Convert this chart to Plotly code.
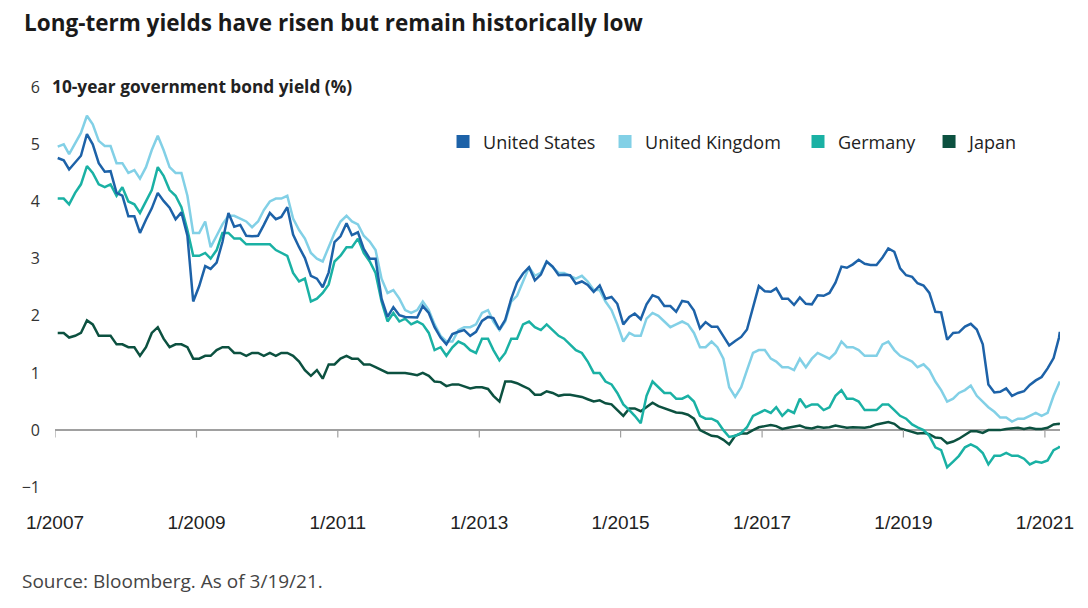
import pandas as pd
import plotly.graph_objects as go

# Monthly (mid-month) 10-year government bond yields, Jan 2007 - Mar 2021, plus final 3/19/21
months = list(pd.date_range("2007-01-01", "2021-03-01", freq="MS") + pd.Timedelta(days=14))
dates = months + [pd.Timestamp("2021-03-19")]

us = [
    4.76, 4.72, 4.56, 4.69, 4.80, 5.18, 5.00, 4.67, 4.52, 4.53, 4.15, 4.10,
    3.74, 3.74, 3.45, 3.68, 3.88, 4.15, 4.01, 3.89, 3.69, 3.81, 3.40, 2.25,
    2.52, 2.87, 2.82, 2.93, 3.29, 3.80, 3.56, 3.59, 3.40, 3.39, 3.40, 3.59,
    3.80, 3.69, 3.73, 3.90, 3.42, 3.20, 3.01, 2.70, 2.65, 2.50, 2.76, 3.29,
    3.39, 3.62, 3.41, 3.46, 3.17, 3.00, 3.00, 2.30, 1.98, 2.15, 2.01, 1.98,
    1.97, 1.97, 2.17, 2.05, 1.80, 1.62, 1.50, 1.68, 1.72, 1.75, 1.65, 1.72,
    1.91, 1.98, 1.96, 1.76, 1.93, 2.30, 2.58, 2.74, 2.85, 2.62, 2.72, 2.95,
    2.86, 2.71, 2.72, 2.71, 2.56, 2.60, 2.54, 2.42, 2.53, 2.30, 2.33, 2.21,
    1.85, 1.98, 2.04, 1.94, 2.20, 2.36, 2.32, 2.17, 2.17, 2.07, 2.26, 2.24,
    2.09, 1.78, 1.89, 1.81, 1.81, 1.64, 1.48, 1.56, 1.63, 1.76, 2.14, 2.52,
    2.43, 2.42, 2.48, 2.30, 2.30, 2.19, 2.32, 2.21, 2.20, 2.36, 2.35, 2.40,
    2.58, 2.86, 2.84, 2.90, 2.98, 2.91, 2.89, 2.89, 3.02, 3.18, 3.12, 2.83,
    2.71, 2.68, 2.57, 2.53, 2.40, 2.07, 2.06, 1.58, 1.70, 1.71, 1.81, 1.86,
    1.76, 1.50, 0.80, 0.66, 0.67, 0.73, 0.60, 0.65, 0.68, 0.79, 0.87, 0.93,
    1.08, 1.26, 1.62, 1.72,
]

uk = [
    4.96, 5.00, 4.83, 5.03, 5.20, 5.50, 5.35, 5.06, 4.97, 4.97, 4.67, 4.67,
    4.50, 4.55, 4.40, 4.60, 4.90, 5.15, 4.90, 4.60, 4.50, 4.50, 4.10, 3.45,
    3.45, 3.65, 3.20, 3.40, 3.60, 3.75, 3.75, 3.70, 3.65, 3.55, 3.65, 3.85,
    4.00, 4.05, 4.05, 4.10, 3.70, 3.50, 3.35, 3.10, 3.00, 2.95, 3.20, 3.45,
    3.65, 3.75, 3.65, 3.60, 3.40, 3.30, 3.15, 2.65, 2.40, 2.45, 2.30, 2.10,
    2.05, 2.10, 2.25, 2.10, 1.85, 1.65, 1.55, 1.55, 1.75, 1.80, 1.80, 1.85,
    2.05, 2.10, 1.90, 1.75, 1.90, 2.25, 2.35, 2.60, 2.85, 2.70, 2.75, 2.95,
    2.85, 2.75, 2.75, 2.70, 2.65, 2.70, 2.60, 2.45, 2.45, 2.25, 2.10, 1.85,
    1.55, 1.70, 1.65, 1.65, 1.95, 2.05, 2.00, 1.90, 1.80, 1.85, 1.90, 1.85,
    1.70, 1.45, 1.45, 1.55, 1.45, 1.25, 0.75, 0.58, 0.75, 1.05, 1.35, 1.40,
    1.40, 1.25, 1.20, 1.10, 1.10, 1.05, 1.25, 1.10, 1.25, 1.35, 1.30, 1.25,
    1.35, 1.55, 1.45, 1.45, 1.40, 1.30, 1.30, 1.30, 1.50, 1.55, 1.40, 1.30,
    1.25, 1.20, 1.10, 1.15, 1.05, 0.85, 0.70, 0.50, 0.55, 0.65, 0.70, 0.78,
    0.60, 0.50, 0.40, 0.32, 0.22, 0.22, 0.15, 0.20, 0.20, 0.25, 0.30, 0.25,
    0.30, 0.60, 0.80, 0.85,
]

germany = [
    4.05, 4.05, 3.95, 4.15, 4.30, 4.62, 4.50, 4.30, 4.25, 4.30, 4.10, 4.25,
    4.00, 3.95, 3.80, 4.00, 4.20, 4.60, 4.45, 4.20, 4.10, 3.90, 3.50, 3.05,
    3.05, 3.10, 3.00, 3.15, 3.45, 3.45, 3.35, 3.35, 3.25, 3.25, 3.25, 3.25,
    3.25, 3.15, 3.10, 3.05, 2.75, 2.60, 2.65, 2.25, 2.30, 2.40, 2.55, 2.95,
    3.05, 3.20, 3.20, 3.35, 3.10, 2.95, 2.75, 2.25, 1.90, 2.05, 1.90, 1.95,
    1.85, 1.90, 1.85, 1.70, 1.40, 1.45, 1.30, 1.45, 1.55, 1.50, 1.40, 1.35,
    1.60, 1.60, 1.40, 1.22, 1.35, 1.60, 1.60, 1.85, 1.90, 1.80, 1.75, 1.85,
    1.75, 1.65, 1.60, 1.50, 1.40, 1.35, 1.20, 1.00, 1.00, 0.85, 0.80, 0.65,
    0.45, 0.35, 0.25, 0.12, 0.60, 0.85, 0.75, 0.65, 0.65, 0.55, 0.55, 0.60,
    0.50, 0.25, 0.20, 0.20, 0.15, 0.00, -0.12, -0.10, -0.05, 0.05, 0.25, 0.30,
    0.35, 0.30, 0.40, 0.25, 0.35, 0.30, 0.55, 0.40, 0.45, 0.45, 0.35, 0.40,
    0.60, 0.70, 0.55, 0.55, 0.50, 0.35, 0.35, 0.35, 0.45, 0.45, 0.35, 0.25,
    0.20, 0.10, 0.05, 0.00, -0.10, -0.30, -0.35, -0.65, -0.55, -0.45, -0.30, -0.25,
    -0.30, -0.40, -0.60, -0.45, -0.45, -0.40, -0.45, -0.45, -0.50, -0.60, -0.55, -0.57,
    -0.53, -0.35, -0.30, -0.28,
]

japan = [
    1.70, 1.70, 1.62, 1.65, 1.70, 1.92, 1.85, 1.65, 1.65, 1.65, 1.50, 1.50,
    1.45, 1.45, 1.30, 1.45, 1.70, 1.80, 1.60, 1.45, 1.50, 1.50, 1.45, 1.25,
    1.25, 1.30, 1.30, 1.40, 1.45, 1.45, 1.35, 1.35, 1.30, 1.35, 1.35, 1.30,
    1.35, 1.30, 1.35, 1.35, 1.30, 1.20, 1.05, 0.95, 1.05, 0.90, 1.15, 1.15,
    1.25, 1.30, 1.25, 1.25, 1.15, 1.15, 1.10, 1.05, 1.00, 1.00, 1.00, 1.00,
    0.98, 0.96, 1.00, 0.95, 0.85, 0.84, 0.77, 0.80, 0.80, 0.77, 0.73, 0.75,
    0.75, 0.72, 0.60, 0.50, 0.85, 0.85, 0.82, 0.77, 0.72, 0.62, 0.62, 0.68,
    0.65, 0.60, 0.62, 0.62, 0.60, 0.58, 0.54, 0.50, 0.52, 0.47, 0.45, 0.35,
    0.25, 0.38, 0.38, 0.33, 0.40, 0.48, 0.42, 0.38, 0.35, 0.31, 0.30, 0.27,
    0.20, 0.00, -0.05, -0.10, -0.11, -0.17, -0.25, -0.10, -0.06, -0.06, 0.00, 0.05,
    0.07, 0.09, 0.07, 0.02, 0.04, 0.06, 0.08, 0.04, 0.03, 0.06, 0.04, 0.05,
    0.08, 0.06, 0.04, 0.05, 0.05, 0.04, 0.06, 0.10, 0.12, 0.14, 0.11, 0.03,
    0.00, -0.03, -0.06, -0.05, -0.07, -0.13, -0.14, -0.23, -0.20, -0.15, -0.08, -0.02,
    -0.02, -0.05, 0.00, 0.00, 0.00, 0.02, 0.03, 0.04, 0.02, 0.04, 0.02, 0.02,
    0.04, 0.10, 0.11, 0.10,
]

series_names = ["United States", "United Kingdom", "Germany", "Japan"]
series_values = [us, uk, germany, japan]
series_colors = ["#1d62a8", "#82d0e6", "#1ab1a4", "#0c5140"]

tick_dates = [pd.Timestamp(f"{y}-01-01") for y in range(2007, 2022, 2)]
tick_labels = [f"1/{y}" for y in range(2007, 2022, 2)]
y_ticks = [-1, 0, 1, 2, 3, 4, 5, 6]

FONT = "'Open Sans', Lato, sans-serif"

fig = go.Figure()

# draw Japan first, US on top
for name, vals, col in reversed(list(zip(series_names, series_values, series_colors))):
    fig.add_trace(go.Scatter(x=dates, y=vals, mode="lines", name=name,
                             line=dict(color=col, width=2.5), showlegend=False,
                             hoverinfo="x+y+name"))

# legend entries with square swatches, one legend box per entry for exact spacing
legend_ids = ["legend", "legend2", "legend3", "legend4"]
legend_x = [0.3861, 0.5473, 0.7393, 0.8697]
for name, col, lid in zip(series_names, series_colors, legend_ids):
    fig.add_trace(go.Scatter(x=[None], y=[None], mode="markers", name=name, legend=lid,
                             marker=dict(symbol="square", size=13, color=col)))

# tick marks on the zero line
for td in tick_dates:
    fig.add_shape(type="line", xref="x", yref="y", x0=td, x1=td, y0=0, y1=-0.13,
                  line=dict(color="#a0a0a0", width=1.2))

legend_style = dict(orientation="h", y=0.868, xanchor="left", yanchor="middle",
                    font=dict(size=18, color="#222"), bgcolor="rgba(0,0,0,0)",
                    itemclick=False, itemdoubleclick=False)

fig.update_layout(
    width=1088, height=608,
    margin=dict(l=55, r=28, t=86, b=99),
    paper_bgcolor="white", plot_bgcolor="white",
    font=dict(family=FONT, color="#222"),
    showlegend=True,
    xaxis=dict(range=[pd.Timestamp("2007-01-01"), pd.Timestamp("2021-03-20")],
               tickvals=tick_dates, ticktext=tick_labels, showgrid=False,
               showline=False, zeroline=False, ticks="",
               tickfont=dict(family="'Liberation Sans', Arial, sans-serif", size=19, color="#222")),
    yaxis=dict(range=[-1.38, 6.02], tickvals=y_ticks, showgrid=False,
               zeroline=True, zerolinecolor="#a0a0a0", zerolinewidth=1.5,
               showline=False, ticks="", ticklabelstandoff=14,
               tickfont=dict(size=16, color="#333")),
)
for lid, lx in zip(legend_ids, legend_x):
    fig.update_layout({lid: dict(x=lx, **legend_style)})

fig.add_annotation(text="<b>Long-term yields have risen but remain historically low</b>",
                   xref="paper", yref="paper", x=-33/1005, y=1 + (86 - 22) / 423,
                   xanchor="left", yanchor="middle", showarrow=False,
                   font=dict(size=22.5, color="#1a1a1a"))
fig.add_annotation(text="<b>10-year government bond yield (%)</b>",
                   xref="paper", yref="paper", x=-5/1005, y=1.0,
                   xanchor="left", yanchor="middle", showarrow=False,
                   font=dict(size=17.3, color="#222"))
fig.add_annotation(text="Source: Bloomberg. As of 3/19/21.",
                   xref="paper", yref="paper", x=-35/1005, y=-(581 - 509) / 423,
                   xanchor="left", yanchor="middle", showarrow=False,
                   font=dict(size=19, color="#444"))

fig.write_html("out.html", config={"displayModeBar": False},
               post_script="document.body.style.margin='0';")
